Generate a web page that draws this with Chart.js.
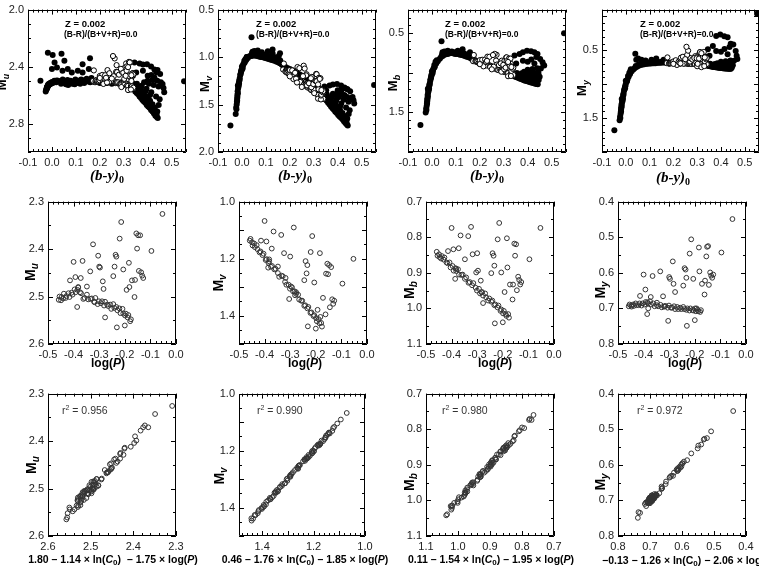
<!DOCTYPE html>
<html>
<head>
<meta charset="utf-8">
<script src="https://cdn.jsdelivr.net/npm/chart.js@4.4.1/dist/chart.umd.min.js"></script>
<style>
  body { margin: 0; width: 759px; height: 570px; overflow: hidden; position: relative; background: #fff; font-family: "Liberation Sans", Arial, sans-serif; }
  canvas { position: absolute; }
  .lab { position: absolute; white-space: pre; color: #000; line-height: 1; }
  .yt { transform: translate(-50%, -50%) rotate(-90deg); font-weight: bold; font-size: 14px; }
  .yt sub { font-size: 10px; font-style: italic; vertical-align: -3px; }
  .yt.s { font-size: 13px; }
  .yt.s sub { font-size: 9px; }
  .xt1 { transform: translate(-50%, -50%); font: italic bold 15px "Liberation Serif", serif; }
  .xt1 sub { font-size: 10px; font-style: normal; vertical-align: -3px; }
  .xt2 { transform: translate(-50%, -50%); font-weight: bold; font-size: 12px; }
  .xt3 { transform: translate(-50%, -50%); font-weight: bold; font-size: 10.5px; }
  .xt3l { font-weight: bold; font-size: 10.5px; }
  .xt3 sub, .xt3l sub { font-size: 8px; vertical-align: -2px; }
  .z { font-weight: bold; font-size: 9.5px; }
  .br { font-weight: bold; font-size: 8.5px; }
  .r2 { font-size: 10.5px; color: #333; }
  .r2 sup { font-size: 7px; vertical-align: 4px; }
</style>
</head>
<body>
<script>
// stars: first 50 sit on the period-luminosity band, the last 42 are the scattered ones
const starLogP = [
  -0.458, -0.455, -0.449, -0.447, -0.441, -0.438, -0.431, -0.428, -0.420, -0.416,
  -0.408, -0.404, -0.396, -0.392, -0.385, -0.382, -0.375, -0.371, -0.362, -0.357,
  -0.348, -0.343, -0.334, -0.329, -0.320, -0.315, -0.306, -0.301, -0.293, -0.289,
  -0.281, -0.277, -0.269, -0.265, -0.257, -0.253, -0.245, -0.241, -0.233, -0.229,
  -0.221, -0.217, -0.209, -0.206, -0.199, -0.196, -0.189, -0.186, -0.179, -0.176,
  -0.414, -0.400, -0.393, -0.386, -0.382, -0.372, -0.365, -0.348, -0.335, -0.324,
  -0.318, -0.304, -0.300, -0.297, -0.286, -0.277, -0.283, -0.245, -0.240, -0.236,
  -0.233, -0.231, -0.220, -0.214, -0.206, -0.200, -0.193, -0.184, -0.182, -0.172,
  -0.162, -0.160, -0.155, -0.152, -0.148, -0.145, -0.140, -0.136, -0.132, -0.128,
  -0.096, -0.053
];
const starBy = [
  0.180, 0.172, 0.183, 0.182, 0.187, 0.186, 0.191, 0.190, 0.204, 0.195,
  0.209, 0.199, 0.218, 0.210, 0.224, 0.214, 0.231, 0.223, 0.236, 0.228,
  0.243, 0.244, 0.248, 0.243, 0.261, 0.259, 0.266, 0.267, 0.271, 0.272,
  0.286, 0.277, 0.285, 0.288, 0.297, 0.290, 0.307, 0.299, 0.312, 0.302,
  0.321, 0.313, 0.327, 0.318, 0.331, 0.330, 0.333, 0.334, 0.340, 0.340,
  0.200, 0.175, 0.210, 0.215, 0.200, 0.222, 0.232, 0.226, 0.240, 0.270,
  0.230, 0.300, 0.268, 0.272, 0.258, 0.290, 0.250, 0.280, 0.292, 0.302,
  0.288, 0.318, 0.310, 0.262, 0.298, 0.330, 0.302, 0.312, 0.330, 0.320,
  0.332, 0.308, 0.322, 0.312, 0.328, 0.338, 0.325, 0.335, 0.340, 0.332,
  0.318, 0.255
];
const starMu = [
  2.507, 2.500, 2.508, 2.501, 2.504, 2.494, 2.503, 2.499, 2.493, 2.501,
  2.492, 2.496, 2.485, 2.491, 2.486, 2.481, 2.491, 2.493, 2.505, 2.503,
  2.496, 2.506, 2.505, 2.504, 2.511, 2.503, 2.516, 2.510, 2.514, 2.510,
  2.519, 2.511, 2.517, 2.520, 2.517, 2.526, 2.516, 2.524, 2.522, 2.529,
  2.525, 2.535, 2.526, 2.536, 2.540, 2.536, 2.544, 2.539, 2.552, 2.548,
  2.466, 2.427, 2.459, 2.522, 2.480, 2.461, 2.425, 2.479, 2.447, 2.390,
  2.512, 2.414, 2.437, 2.439, 2.468, 2.544, 2.484, 2.457, 2.437, 2.412,
  2.416, 2.565, 2.378, 2.343, 2.443, 2.561, 2.486, 2.429, 2.480, 2.466,
  2.501, 2.465, 2.367, 2.399, 2.371, 2.446, 2.371, 2.449, 2.456, 2.461,
  2.404, 2.326
];
const starMv = [
  1.137, 1.131, 1.143, 1.154, 1.147, 1.160, 1.153, 1.167, 1.178, 1.175,
  1.188, 1.183, 1.205, 1.202, 1.215, 1.210, 1.229, 1.226, 1.238, 1.236,
  1.251, 1.264, 1.260, 1.262, 1.282, 1.292, 1.292, 1.306, 1.301, 1.315,
  1.329, 1.324, 1.327, 1.344, 1.348, 1.348, 1.366, 1.364, 1.375, 1.370,
  1.391, 1.389, 1.402, 1.399, 1.409, 1.420, 1.413, 1.427, 1.426, 1.439,
  1.137, 1.068, 1.140, 1.232, 1.203, 1.165, 1.105, 1.228, 1.117, 1.181,
  1.268, 1.342, 1.193, 1.298, 1.091, 1.318, 1.315, 1.276, 1.209, 1.252,
  1.223, 1.438, 1.177, 1.121, 1.284, 1.446, 1.380, 1.181, 1.405, 1.338,
  1.396, 1.253, 1.218, 1.255, 1.223, 1.371, 1.230, 1.343, 1.359, 1.348,
  1.288, 1.201
];
const starMb = [
  0.841, 0.852, 0.848, 0.856, 0.860, 0.853, 0.863, 0.857, 0.871, 0.873,
  0.871, 0.885, 0.881, 0.894, 0.887, 0.895, 0.890, 0.905, 0.906, 0.905,
  0.917, 0.913, 0.928, 0.926, 0.935, 0.929, 0.942, 0.950, 0.945, 0.958,
  0.954, 0.964, 0.958, 0.969, 0.978, 0.972, 0.981, 0.978, 0.991, 0.989,
  0.997, 0.992, 1.007, 1.003, 1.014, 1.007, 1.016, 1.021, 1.016, 1.026,
  0.839, 0.774, 0.834, 0.917, 0.889, 0.831, 0.795, 0.862, 0.797, 0.771,
  0.848, 0.899, 0.845, 0.894, 0.922, 0.985, 0.955, 0.901, 0.845, 0.852,
  0.880, 1.042, 0.806, 0.760, 0.899, 1.039, 0.954, 0.803, 0.885, 0.933,
  0.975, 0.933, 0.818, 0.852, 0.820, 0.949, 0.911, 0.920, 0.933, 0.926,
  0.862, 0.774
];
const starMy = [
  0.694, 0.689, 0.692, 0.695, 0.689, 0.693, 0.686, 0.691, 0.691, 0.686,
  0.692, 0.686, 0.689, 0.682, 0.683, 0.686, 0.680, 0.689, 0.686, 0.694,
  0.691, 0.694, 0.690, 0.697, 0.695, 0.693, 0.698, 0.692, 0.698, 0.698,
  0.694, 0.702, 0.696, 0.702, 0.698, 0.702, 0.696, 0.702, 0.704, 0.700,
  0.706, 0.700, 0.704, 0.706, 0.700, 0.708, 0.704, 0.708, 0.710, 0.705,
  0.665, 0.605, 0.647, 0.716, 0.700, 0.668, 0.609, 0.684, 0.596, 0.666,
  0.694, 0.735, 0.612, 0.617, 0.568, 0.654, 0.631, 0.636, 0.587, 0.591,
  0.614, 0.749, 0.546, 0.506, 0.617, 0.733, 0.700, 0.529, 0.596, 0.631,
  0.661, 0.622, 0.554, 0.527, 0.525, 0.634, 0.599, 0.608, 0.614, 0.605,
  0.543, 0.449
];

// fitted magnitudes (bottom row x values)
const fitMu = [
  2.515, 2.495, 2.519, 2.492, 2.507, 2.482, 2.509, 2.497, 2.503, 2.494,
  2.496, 2.486, 2.494, 2.488, 2.498, 2.475, 2.492, 2.482, 2.512, 2.499,
  2.501, 2.498, 2.515, 2.503, 2.517, 2.494, 2.519, 2.498, 2.522, 2.508,
  2.530, 2.505, 2.519, 2.510, 2.524, 2.522, 2.525, 2.516, 2.523, 2.524,
  2.531, 2.524, 2.530, 2.533, 2.550, 2.529, 2.549, 2.530, 2.554, 2.542,
  2.462, 2.431, 2.452, 2.530, 2.486, 2.455, 2.430, 2.474, 2.452, 2.396,
  2.506, 2.420, 2.431, 2.445, 2.463, 2.538, 2.490, 2.451, 2.442, 2.406,
  2.421, 2.557, 2.383, 2.349, 2.437, 2.555, 2.492, 2.423, 2.486, 2.460,
  2.507, 2.459, 2.373, 2.393, 2.377, 2.440, 2.365, 2.455, 2.450, 2.467,
  2.398, 2.309
];
const fitMv = [
  1.140, 1.127, 1.145, 1.153, 1.151, 1.157, 1.154, 1.163, 1.181, 1.173,
  1.192, 1.182, 1.207, 1.199, 1.219, 1.206, 1.230, 1.224, 1.241, 1.233,
  1.253, 1.260, 1.264, 1.261, 1.285, 1.290, 1.293, 1.302, 1.305, 1.312,
  1.331, 1.323, 1.330, 1.340, 1.349, 1.346, 1.370, 1.361, 1.377, 1.369,
  1.394, 1.385, 1.403, 1.397, 1.413, 1.417, 1.415, 1.426, 1.429, 1.435,
  1.140, 1.071, 1.137, 1.236, 1.199, 1.169, 1.108, 1.225, 1.120, 1.177,
  1.272, 1.338, 1.196, 1.302, 1.094, 1.322, 1.311, 1.280, 1.205, 1.256,
  1.219, 1.442, 1.174, 1.124, 1.288, 1.441, 1.384, 1.185, 1.401, 1.342,
  1.392, 1.257, 1.214, 1.259, 1.227, 1.367, 1.234, 1.347, 1.355, 1.352,
  1.292, 1.205
];
const fitMb = [
  0.836, 0.858, 0.846, 0.860, 0.853, 0.856, 0.868, 0.853, 0.872, 0.867,
  0.878, 0.882, 0.883, 0.889, 0.893, 0.894, 0.894, 0.898, 0.909, 0.903,
  0.922, 0.907, 0.929, 0.933, 0.931, 0.931, 0.939, 0.956, 0.940, 0.962,
  0.953, 0.971, 0.952, 0.972, 0.976, 0.977, 0.977, 0.979, 0.997, 0.982,
  0.999, 0.989, 1.012, 1.002, 1.018, 1.001, 1.019, 1.019, 1.023, 1.021,
  0.843, 0.778, 0.829, 0.912, 0.893, 0.826, 0.800, 0.866, 0.793, 0.776,
  0.852, 0.903, 0.841, 0.898, 0.918, 0.980, 0.959, 0.897, 0.849, 0.848,
  0.884, 1.037, 0.810, 0.764, 0.894, 1.034, 0.958, 0.807, 0.881, 0.937,
  0.971, 0.929, 0.822, 0.848, 0.824, 0.953, 0.907, 0.924, 0.929, 0.930,
  0.858, 0.770
];
const fitMy = [
  0.700, 0.685, 0.700, 0.688, 0.691, 0.688, 0.695, 0.688, 0.696, 0.678,
  0.693, 0.693, 0.683, 0.686, 0.681, 0.694, 0.671, 0.692, 0.681, 0.700,
  0.690, 0.701, 0.686, 0.699, 0.687, 0.698, 0.695, 0.701, 0.692, 0.699,
  0.698, 0.695, 0.704, 0.700, 0.701, 0.697, 0.702, 0.693, 0.706, 0.696,
  0.713, 0.699, 0.709, 0.700, 0.703, 0.700, 0.708, 0.706, 0.716, 0.702,
  0.662, 0.607, 0.650, 0.712, 0.703, 0.664, 0.612, 0.681, 0.598, 0.663,
  0.697, 0.731, 0.615, 0.614, 0.571, 0.651, 0.634, 0.639, 0.584, 0.594,
  0.611, 0.738, 0.549, 0.509, 0.614, 0.736, 0.697, 0.532, 0.599, 0.628,
  0.664, 0.625, 0.551, 0.530, 0.522, 0.637, 0.602, 0.605, 0.617, 0.602,
  0.540, 0.440
];

// model grid, filled dots of the top row
const modelBy = [
  -0.048, -0.026, -0.024, -0.022, -0.021, -0.020, -0.019, -0.018, -0.016, -0.015, -0.013,
  -0.011, -0.009, -0.007, -0.004, -0.001, 0.003, 0.007, 0.012, 0.018, 0.025, 0.033,
  -0.023, -0.020, -0.017, -0.014, -0.010, -0.006, -0.002, 0.005, 0.010, 0.020,
  -0.019, -0.012, -0.003, 0.015,
  0.038, 0.045, 0.052, 0.058, 0.065, 0.071, 0.078, 0.085, 0.091, 0.098,
  0.105, 0.112, 0.118, 0.125, 0.132, 0.138, 0.145, 0.152, 0.158, 0.165,
  0.042, 0.055, 0.068, 0.080, 0.095, 0.108, 0.122, 0.135, 0.148, 0.160,
  -0.017, 0.003, 0.011, 0.052, 0.021, 0.044, 0.066, 0.083, 0.108, 0.128, 0.128, 0.159, 0.154, 0.000,
  0.040, 0.552,
  0.170, 0.180, 0.190, 0.200, 0.210, 0.220, 0.230, 0.240, 0.250, 0.260,
  0.270, 0.280, 0.290, 0.300, 0.310, 0.318, 0.326, 0.334, 0.342, 0.350,
  0.330, 0.336, 0.342, 0.348, 0.354, 0.360, 0.366, 0.372, 0.378, 0.384,
  0.390, 0.396, 0.402, 0.408, 0.414, 0.420, 0.426, 0.432, 0.438, 0.442,
  0.340, 0.350, 0.360, 0.370, 0.380, 0.390, 0.400, 0.410, 0.420, 0.430, 0.440,
  0.355, 0.375, 0.395, 0.415, 0.435, 0.450, 0.385, 0.405, 0.425, 0.445,
  0.400, 0.420, 0.440, 0.455,
  0.345, 0.358, 0.365, 0.378, 0.388, 0.398, 0.405, 0.412, 0.418, 0.424,
  0.432, 0.437, 0.446, 0.392, 0.372, 0.410,
  0.345, 0.366, 0.380, 0.397, 0.414, 0.428, 0.441, 0.452, 0.462, 0.466, 0.469,
  0.380, 0.352, 0.338, 0.400, 0.428, 0.436, 0.415
];
const modelMu = [
  2.500, 2.575, 2.565, 2.555, 2.545, 2.550, 2.540, 2.535, 2.530, 2.525, 2.530,
  2.520, 2.525, 2.515, 2.520, 2.510, 2.515, 2.510, 2.505, 2.510, 2.500, 2.505,
  2.560, 2.548, 2.538, 2.532, 2.522, 2.518, 2.512, 2.508, 2.500, 2.498,
  2.545, 2.528, 2.515, 2.505,
  2.520, 2.490, 2.510, 2.525, 2.495, 2.515, 2.500, 2.520, 2.505, 2.490,
  2.515, 2.500, 2.520, 2.495, 2.510, 2.500, 2.485, 2.505, 2.495, 2.480,
  2.500, 2.515, 2.530, 2.510, 2.525, 2.505, 2.490, 2.515, 2.500, 2.510,
  2.303, 2.319, 2.372, 2.360, 2.407, 2.430, 2.418, 2.442, 2.430, 2.384, 2.442, 2.342, 2.418, 2.418,
  2.310, 2.504,
  2.505, 2.510, 2.500, 2.515, 2.505, 2.510, 2.515, 2.505, 2.520, 2.510,
  2.515, 2.520, 2.510, 2.525, 2.520, 2.530, 2.525, 2.535, 2.540, 2.545,
  2.530, 2.545, 2.560, 2.575, 2.585, 2.595, 2.610, 2.620, 2.635, 2.645,
  2.655, 2.670, 2.680, 2.690, 2.705, 2.715, 2.730, 2.745, 2.755, 2.762,
  2.520, 2.540, 2.555, 2.570, 2.590, 2.605, 2.620, 2.640, 2.665, 2.690, 2.715,
  2.520, 2.535, 2.555, 2.580, 2.610, 2.630, 2.510, 2.520, 2.530, 2.540,
  2.500, 2.495, 2.500, 2.510,
  2.555, 2.575, 2.585, 2.605, 2.620, 2.640, 2.660, 2.670, 2.680, 2.700,
  2.715, 2.735, 2.670, 2.570, 2.550, 2.600,
  2.372, 2.379, 2.385, 2.384, 2.400, 2.420, 2.425, 2.453, 2.523, 2.550, 2.580,
  2.430, 2.442, 2.465, 2.465, 2.476, 2.440, 2.460
];
const modelMv = [
  1.720, 1.600, 1.530, 1.500, 1.470, 1.440, 1.400, 1.360, 1.330, 1.300, 1.270,
  1.250, 1.220, 1.190, 1.160, 1.130, 1.100, 1.070, 1.050, 1.030, 1.010, 0.990,
  1.550, 1.460, 1.380, 1.310, 1.240, 1.180, 1.140, 1.080, 1.040, 1.000,
  1.420, 1.280, 1.150, 1.020,
  0.990, 0.985, 0.980, 0.985, 0.990, 0.995, 1.000, 1.000, 1.005, 1.010,
  1.015, 1.020, 1.025, 1.030, 1.035, 1.040, 1.050, 1.055, 1.065, 1.075,
  0.960, 0.955, 0.960, 0.965, 0.975, 0.985, 0.990, 1.000, 1.020, 1.035,
  1.300, 1.120, 1.060, 0.935, 1.000, 0.945, 0.930, 0.950, 0.940, 0.920, 0.960, 0.960, 0.990, 1.100,
  0.790, 1.293,
  1.085, 1.100, 1.115, 1.125, 1.140, 1.155, 1.165, 1.180, 1.195, 1.205,
  1.220, 1.240, 1.260, 1.280, 1.300, 1.320, 1.340, 1.355, 1.375, 1.395,
  1.385, 1.400, 1.420, 1.445, 1.460, 1.480, 1.500, 1.520, 1.540, 1.555,
  1.575, 1.590, 1.610, 1.625, 1.640, 1.655, 1.675, 1.695, 1.710, 1.720,
  1.390, 1.410, 1.430, 1.455, 1.480, 1.505, 1.530, 1.560, 1.590, 1.620, 1.650,
  1.395, 1.420, 1.450, 1.490, 1.530, 1.560, 1.400, 1.420, 1.450, 1.470,
  1.380, 1.400, 1.420, 1.440,
  1.430, 1.460, 1.470, 1.500, 1.520, 1.550, 1.580, 1.600, 1.610, 1.640,
  1.660, 1.690, 1.600, 1.470, 1.440, 1.520,
  1.310, 1.300, 1.290, 1.285, 1.300, 1.320, 1.340, 1.360, 1.420, 1.455, 1.490,
  1.386, 1.350, 1.340, 1.350, 1.400, 1.335, 1.350
];
const modelMb = [
  1.660, 1.500, 1.450, 1.420, 1.390, 1.360, 1.320, 1.280, 1.250, 1.220, 1.190,
  1.160, 1.130, 1.100, 1.060, 1.020, 0.980, 0.940, 0.910, 0.880, 0.850, 0.820,
  1.470, 1.380, 1.300, 1.230, 1.150, 1.080, 1.030, 0.960, 0.900, 0.840,
  1.340, 1.200, 1.050, 0.860,
  0.800, 0.785, 0.770, 0.765, 0.760, 0.755, 0.750, 0.750, 0.755, 0.760,
  0.760, 0.765, 0.770, 0.775, 0.780, 0.785, 0.795, 0.800, 0.810, 0.820,
  0.770, 0.755, 0.745, 0.740, 0.740, 0.745, 0.750, 0.755, 0.770, 0.785,
  1.200, 1.000, 0.930, 0.730, 0.860, 0.740, 0.720, 0.730, 0.720, 0.700, 0.740, 0.740, 0.760, 0.980,
  0.600, 0.500,
  0.830, 0.840, 0.850, 0.860, 0.870, 0.880, 0.895, 0.905, 0.915, 0.925,
  0.940, 0.950, 0.960, 0.975, 0.985, 0.995, 1.005, 1.015, 1.025, 1.035,
  1.020, 1.030, 1.040, 1.048, 1.055, 1.060, 1.070, 1.078, 1.085, 1.092,
  1.098, 1.104, 1.110, 1.115, 1.120, 1.126, 1.132, 1.138, 1.142, 1.145,
  1.010, 1.020, 1.025, 1.035, 1.045, 1.055, 1.065, 1.075, 1.085, 1.095, 1.100,
  1.000, 1.005, 1.015, 1.030, 1.040, 1.050, 0.985, 0.990, 0.995, 1.000,
  0.960, 0.950, 0.940, 0.945,
  1.035, 1.045, 1.050, 1.060, 1.070, 1.080, 1.090, 1.095, 1.100, 1.110,
  1.118, 1.128, 1.090, 1.040, 1.020, 1.060,
  0.780, 0.760, 0.740, 0.720, 0.725, 0.740, 0.760, 0.825, 0.866, 0.900, 0.908,
  0.846, 0.880, 0.900, 0.860, 0.880, 0.800, 0.830
];
const modelMy = [
  1.680, 1.530, 1.480, 1.440, 1.410, 1.380, 1.340, 1.300, 1.270, 1.230, 1.200,
  1.160, 1.130, 1.090, 1.050, 1.010, 0.970, 0.930, 0.890, 0.850, 0.810, 0.780,
  1.500, 1.400, 1.320, 1.250, 1.160, 1.080, 1.030, 0.950, 0.880, 0.800,
  1.360, 1.220, 1.060, 0.830,
  0.760, 0.745, 0.730, 0.720, 0.715, 0.710, 0.705, 0.700, 0.700, 0.695,
  0.695, 0.690, 0.690, 0.690, 0.685, 0.685, 0.685, 0.680, 0.680, 0.680,
  0.730, 0.705, 0.690, 0.685, 0.680, 0.675, 0.675, 0.670, 0.675, 0.670,
  1.220, 0.960, 0.880, 0.620, 0.780, 0.640, 0.640, 0.650, 0.640, 0.620, 0.660, 0.640, 0.660, 0.950,
  0.550, -0.040,
  0.680, 0.685, 0.680, 0.690, 0.685, 0.690, 0.695, 0.690, 0.695, 0.700,
  0.695, 0.700, 0.700, 0.705, 0.700, 0.710, 0.705, 0.710, 0.715, 0.710,
  0.715, 0.720, 0.725, 0.730, 0.735, 0.740, 0.745, 0.748, 0.752, 0.755,
  0.758, 0.760, 0.763, 0.765, 0.767, 0.769, 0.771, 0.772, 0.773, 0.774,
  0.705, 0.710, 0.712, 0.715, 0.720, 0.725, 0.730, 0.735, 0.740, 0.745, 0.750,
  0.700, 0.702, 0.705, 0.710, 0.715, 0.720, 0.690, 0.688, 0.685, 0.680,
  0.670, 0.660, 0.650, 0.655,
  0.722, 0.728, 0.732, 0.738, 0.742, 0.748, 0.752, 0.756, 0.758, 0.762,
  0.766, 0.769, 0.755, 0.730, 0.718, 0.740,
  0.486, 0.437, 0.290, 0.268, 0.292, 0.307, 0.403, 0.413, 0.510, 0.580, 0.630,
  0.510, 0.582, 0.600, 0.520, 0.560, 0.450, 0.480
];

// tick labels
const byTicks = [-0.1, 0.0, 0.1, 0.2, 0.3, 0.4, 0.5];
const logPTicks = [-0.5, -0.4, -0.3, -0.2, -0.1, 0.0];
const muTicksTop = [2.0, 2.4, 2.8];
const mvTicksTop = [0.5, 1.0, 1.5, 2.0];
const mbTicksTop = [0.5, 1.5];
const myTicksTop = [0.5, 1.5];
const muTicks = [2.3, 2.4, 2.5, 2.6];
const mvTicks = [1.0, 1.2, 1.4];
const mbTicks = [0.7, 0.8, 0.9, 1.0, 1.1];
const myTicks = [0.4, 0.5, 0.6, 0.7, 0.8];

const pts = (xs, ys) => xs.map((x, i) => ({x: x, y: ys[i]}));

function eachTick(ax, fn) {
  const lo = Math.min(ax.min, ax.max), hi = Math.max(ax.min, ax.max);
  for (let n = Math.ceil(lo / ax.minor - 1e-6); n <= Math.floor(hi / ax.minor + 1e-6); n++) {
    const v = n * ax.minor;
    const r = v / ax.major;
    fn(v, Math.abs(r - Math.round(r)) < 1e-6 ? 5 : 3);
  }
}

// box round the plot with inward ticks on all four sides
function drawFrame(chart, p) {
  const ctx = chart.ctx, a = chart.chartArea;
  const sx = chart.scales.x, sy = chart.scales.y;
  ctx.save();
  ctx.strokeStyle = '#000';
  ctx.lineWidth = 1;
  ctx.beginPath();
  ctx.rect(Math.round(a.left) + 0.5, Math.round(a.top) + 0.5, Math.round(a.right - a.left) - 1, Math.round(a.bottom - a.top) - 1);
  eachTick(p.x, (v, len) => {
    const px = Math.round(sx.getPixelForValue(v)) + 0.5;
    ctx.moveTo(px, a.bottom); ctx.lineTo(px, a.bottom - len);
    ctx.moveTo(px, a.top); ctx.lineTo(px, a.top + len);
  });
  eachTick(p.y, (v, len) => {
    const py = Math.round(sy.getPixelForValue(v)) + 0.5;
    ctx.moveTo(a.left, py); ctx.lineTo(a.left + len, py);
    ctx.moveTo(a.right, py); ctx.lineTo(a.right - len, py);
  });
  ctx.stroke();
  ctx.restore();
}

function makeChart(p) {
  const padL = 34, padT = 10, padR = 14, padB = 22;
  const cv = document.createElement('canvas');
  cv.width = p.w + padL + padR;
  cv.height = p.h + padT + padB;
  cv.style.left = (p.left - padL) + 'px';
  cv.style.top = (p.top - padT) + 'px';
  document.body.appendChild(cv);
  const axis = (a, fit) => ({
    type: 'linear', min: a.min, max: a.max, reverse: !!a.reverse,
    grid: {display: false, drawTicks: false},
    border: {display: false},
    ticks: {
      font: {family: 'Liberation Sans', size: 11}, color: '#222', padding: 4,
      maxRotation: 0, autoSkip: false, callback: v => v.toFixed(1)
    },
    afterBuildTicks: s => { s.ticks = a.ticks.map(v => ({value: v})); },
    afterFit: fit
  });
  new Chart(cv, {
    type: 'scatter',
    data: {datasets: p.sets},
    options: {
      responsive: false, animation: false, devicePixelRatio: 1,
      layout: {padding: {left: 0, top: padT, right: padR, bottom: 0}},
      plugins: {legend: {display: false}, tooltip: {enabled: false}},
      scales: {
        x: axis(p.x, s => { s.height = padB; }),
        y: axis(p.y, s => { s.width = padL; })
      }
    },
    plugins: [{id: 'frame', afterDraw: c => drawFrame(c, p)}]
  });
}

const openTop = d => ({data: d, pointRadius: 2.6, pointBackgroundColor: '#fff', pointBorderColor: '#000', pointBorderWidth: 1});
const filled = d => ({data: d, pointRadius: 3, pointBackgroundColor: '#000', pointBorderColor: '#000', pointBorderWidth: 0});
const open = d => ({data: d, pointRadius: 2.4, pointBackgroundColor: 'rgba(255,255,255,0)', pointBorderColor: '#333', pointBorderWidth: 1});

const byAxis = {min: -0.1, max: 0.56, ticks: byTicks, minor: 0.02, major: 0.1};
const logPAxis = {min: -0.5, max: 0.0, ticks: logPTicks, minor: 0.02, major: 0.1};
const yMu = {min: 2.3, max: 2.6, reverse: true, ticks: muTicks, minor: 0.05, major: 0.1};
const yMv = {min: 1.0, max: 1.5, reverse: true, ticks: mvTicks, minor: 0.05, major: 0.1};
const yMb = {min: 0.7, max: 1.1, reverse: true, ticks: mbTicks, minor: 0.05, major: 0.1};
const yMy = {min: 0.4, max: 0.8, reverse: true, ticks: myTicks, minor: 0.05, major: 0.1};

const panels = [
  {left: 28, top: 9, w: 158, h: 143, x: byAxis,
   y: {min: 2.0, max: 3.0, reverse: true, ticks: muTicksTop, minor: 0.1, major: 0.4},
   sets: [openTop(pts(starBy, starMu)), filled(pts(modelBy, modelMu))]},
  {left: 218, top: 9, w: 158, h: 143, x: byAxis,
   y: {min: 0.5, max: 2.0, reverse: true, ticks: mvTicksTop, minor: 0.1, major: 0.5},
   sets: [openTop(pts(starBy, starMv)), filled(pts(modelBy, modelMv))]},
  {left: 408, top: 9, w: 158, h: 143, x: byAxis,
   y: {min: 0.2, max: 2.0, reverse: true, ticks: mbTicksTop, minor: 0.1, major: 0.5},
   sets: [openTop(pts(starBy, starMb)), filled(pts(modelBy, modelMb))]},
  {left: 602, top: 9, w: 157, h: 143, x: byAxis,
   y: {min: -0.1, max: 2.0, reverse: true, ticks: myTicksTop, minor: 0.1, major: 0.5},
   sets: [openTop(pts(starBy, starMy)), filled(pts(modelBy, modelMy))]},

  {left: 48, top: 201, w: 128, h: 143, x: logPAxis, y: yMu, sets: [open(pts(starLogP, starMu))]},
  {left: 239, top: 201, w: 128, h: 143, x: logPAxis, y: yMv, sets: [open(pts(starLogP, starMv))]},
  {left: 426, top: 201, w: 128, h: 143, x: logPAxis, y: yMb, sets: [open(pts(starLogP, starMb))]},
  {left: 618, top: 201, w: 128, h: 143, x: logPAxis, y: yMy, sets: [open(pts(starLogP, starMy))]},

  {left: 48, top: 393, w: 128, h: 143, y: yMu, sets: [open(pts(fitMu, starMu))],
   x: {min: 2.3, max: 2.6, reverse: true, ticks: muTicks, minor: 0.02, major: 0.1}},
  {left: 239, top: 393, w: 126, h: 143, y: yMv, sets: [open(pts(fitMv, starMv))],
   x: {min: 1.0, max: 1.49, reverse: true, ticks: mvTicks, minor: 0.02, major: 0.1}},
  {left: 426, top: 393, w: 128, h: 143, y: yMb, sets: [open(pts(fitMb, starMb))],
   x: {min: 0.7, max: 1.1, reverse: true, ticks: mbTicks, minor: 0.02, major: 0.1}},
  {left: 618, top: 393, w: 128, h: 143, y: yMy, sets: [open(pts(fitMy, starMy))],
   x: {min: 0.4, max: 0.8, reverse: true, ticks: myTicks, minor: 0.02, major: 0.1}}
];
panels.forEach(makeChart);

function label(cls, x, y, html) {
  const d = document.createElement('div');
  d.className = 'lab ' + cls;
  d.style.left = x + 'px';
  d.style.top = y + 'px';
  d.innerHTML = html;
  document.body.appendChild(d);
}

// y axis titles
[[3, 82, 'u'], [206, 84, 'v'], [394, 83, 'b'], [583, 88, 'y']]
  .forEach(t => label('yt s', t[0], t[1], 'M<sub>' + t[2] + '</sub>'));
[[31, 272, 'u'], [219, 283, 'v'], [410, 290, 'b'], [601, 290, 'y'],
 [32, 465, 'u'], [220, 476, 'v'], [410, 482, 'b'], [601, 482, 'y']]
  .forEach(t => label('yt', t[0], t[1], 'M<sub>' + t[2] + '</sub>'));

// x axis titles
[[107, 176], [295, 176], [487, 176], [673, 178]]
  .forEach(t => label('xt1', t[0], t[1], '(b-y)<sub>0</sub>'));
[[108, 363], [305, 363], [495, 363], [685, 363]]
  .forEach(t => label('xt2', t[0], t[1], 'log(<i>P</i>)'));
label('xt3', 113, 560, '1.80 \u2013 1.14 \u00d7 ln(<i>C</i><sub>0</sub>)  \u2013 1.75 \u00d7 log(<i>P</i>)');
label('xt3', 305, 560, '0.46 \u2013 1.76 \u00d7 ln(<i>C</i><sub>0</sub>) \u2013 1.85 \u00d7 log(<i>P</i>)');
label('xt3', 491, 560, '0.11 \u2013 1.54 \u00d7 ln(<i>C</i><sub>0</sub>) \u2013 1.95 \u00d7 log(<i>P</i>)');
label('xt3l', 602, 555, '\u22120.13 \u2212 1.26 \u00d7 ln(C<sub>0</sub>) \u2212 2.06 \u00d7 log(<i>P</i>)');

// top row notes
[[65, 64], [256, 256], [445, 445], [640, 640]].forEach(t => {
  label('z', t[0], 19, 'Z = 0.002');
  label('br', t[1], 30, '(B-R)/(B+V+R)=0.0');
});

// correlation notes
[[62, '0.956'], [257, '0.990'], [442, '0.980'], [637, '0.972']]
  .forEach(t => label('r2', t[0], 404, 'r<sup>2</sup> = ' + t[1]));
</script>
</body>
</html>
